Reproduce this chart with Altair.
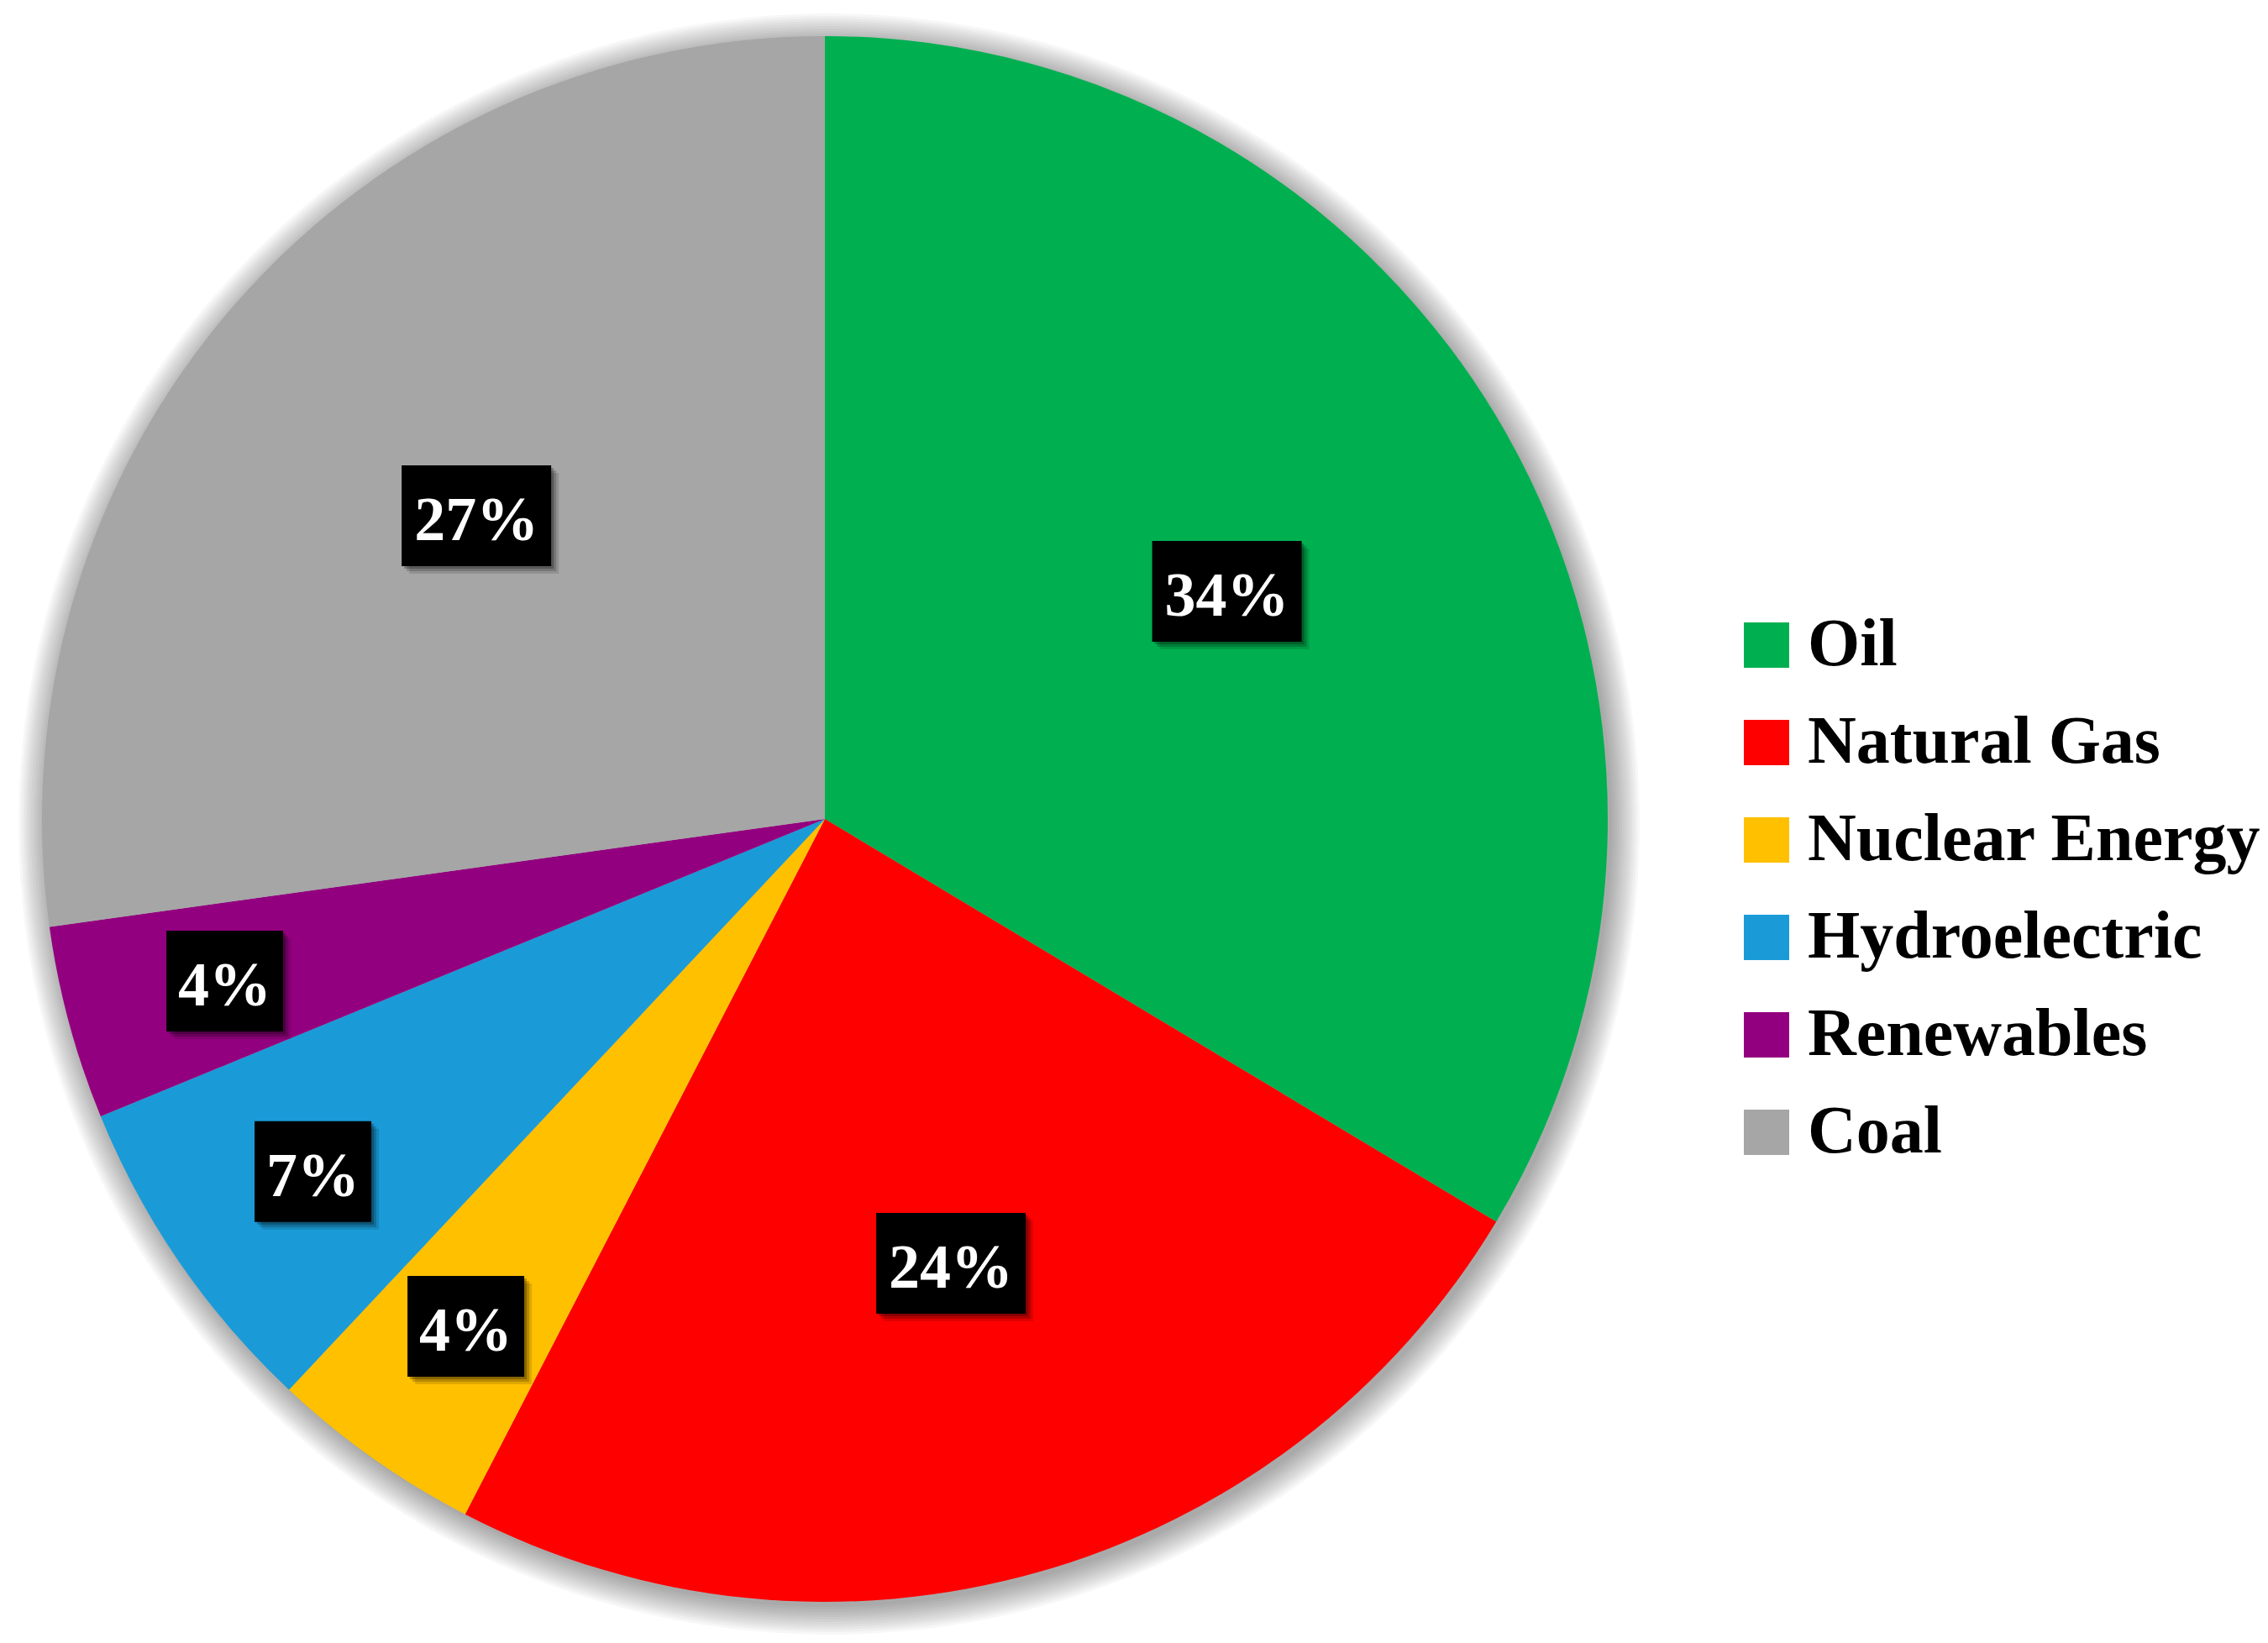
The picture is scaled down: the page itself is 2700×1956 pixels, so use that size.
import altair as alt
import pandas as pd

sources = ["Oil", "Natural Gas", "Nuclear Energy", "Hydroelectric", "Renewables", "Coal"]
shares = [33.6, 24.0, 4.4, 6.8, 4.0, 27.2]
labels = ["34%", "24%", "4%", "7%", "4%", "27%"]
colors = ["#00B050", "#FF0000", "#FFC000", "#1A9BD7", "#93007F", "#A6A6A6"]

df = pd.DataFrame({"source": sources, "share": shares, "label": labels,
                   "idx": list(range(len(sources)))})

W, H = 2684, 1940
CX, CY, R = 974, 967, 932
FONT = "Liberation Serif"

base = alt.Chart(df)

# soft drop shadow under the pie (one disc per layer)
shadow_layers = [
    base.transform_filter("datum.idx == 0").mark_arc(
        theta=0, theta2=6.2832, radius=R + 3 * k, color="#000000", opacity=0.03
    ).encode(x=alt.value(CX + 5), y=alt.value(CY + 6))
    for k in range(0, 12)
]

pie = base.mark_arc(outerRadius=R).encode(
    theta=alt.Theta("share:Q", stack=True),
    order=alt.Order("idx:Q"),
    color=alt.Color("source:N",
                    scale=alt.Scale(domain=sources, range=colors),
                    legend=alt.Legend(title=None, orient="none", legendX=2055, legendY=720,
                                      symbolType="square", symbolSize=2916,
                                      symbolStrokeWidth=0, symbolOpacity=1,
                                      labelFont=FONT, labelFontWeight="bold",
                                      labelFontSize=80, labelColor="black",
                                      labelOffset=9, labelLimit=0, rowPadding=36)),
    x=alt.value(CX), y=alt.value(CY),
)

lab = base.transform_window(
    cum="sum(share)", sort=[alt.SortField("idx")], frame=[None, 0]
).transform_joinaggregate(total="sum(share)").transform_calculate(
    t="2*PI*(datum.cum - datum.share/2)/datum.total",
    r="datum.share < 10 ? 740 : 550",
    px=f"{CX} + datum.r*sin(datum.t)",
    py=f"{CY} - datum.r*cos(datum.t)",
    hw="(61 + 39*length(datum.label))/2",
    bx1="datum.px - datum.hw", bx2="datum.px + datum.hw",
    by1="datum.py - 60", by2="datum.py + 60",
)

def box(off, op):
    return lab.transform_calculate(
        sx1=f"datum.bx1 + {off}", sx2=f"datum.bx2 + {off}",
        sy1=f"datum.by1 + {off}", sy2=f"datum.by2 + {off}",
    ).mark_rect(color="#000000", opacity=op).encode(
        x=alt.X("sx1:Q", scale=None, axis=None), x2="sx2:Q",
        y=alt.Y("sy1:Q", scale=None, axis=None), y2="sy2:Q",
    )

boxes = [box(9, 0.12), box(6, 0.18), box(3, 0.25), box(0, 1.0)]

texts = lab.mark_text(font=FONT, fontWeight="bold", fontSize=74, color="white",
                      align="center", baseline="alphabetic", dy=29).encode(
    x=alt.X("px:Q", scale=None, axis=None),
    y=alt.Y("py:Q", scale=None, axis=None),
    text="label:N",
)

chart = alt.layer(*shadow_layers, pie, *boxes, texts).properties(
    width=W, height=H, padding=0,
    autosize=alt.AutoSizeParams(type="none"),
).configure_view(stroke=None).resolve_scale(x="independent", y="independent")

chart.save("out.html", embed_options={"renderer": "svg", "actions": False})
